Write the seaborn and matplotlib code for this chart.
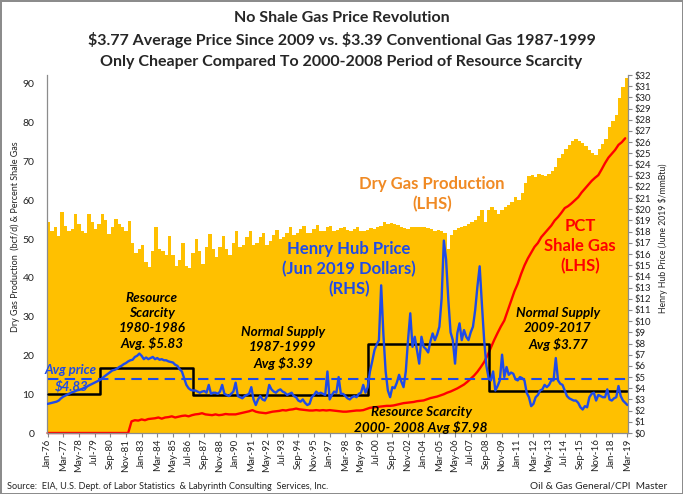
import numpy as np
import pandas as pd
import seaborn as sns
import matplotlib.pyplot as plt

# ---------------------------------------------------------------
# Data
months = pd.date_range('1976-01-01', '2019-03-01', freq='MS')
n_months = len(months)

# Dry gas production (bcf/d), quarterly: Jan, Apr, Jul, Oct
dry_gas = [
    54.5, 52.0, 53.0, 50.8,   # 1976
    57.0, 53.5, 52.0, 52.5,   # 1977
    56.5, 54.0, 52.0, 51.5,   # 1978
    56.5, 54.5, 52.5, 54.0,   # 1979
    56.5, 55.0, 51.3, 53.0,   # 1980
    55.2, 54.0, 53.0, 52.0,   # 1981
    54.6, 49.0, 46.5, 47.5,   # 1982
    48.5, 44.0, 42.8, 47.0,   # 1983
    53.0, 47.5, 47.0, 46.0,   # 1984
    50.9, 46.0, 43.0, 44.5,   # 1985
    49.0, 43.0, 42.5, 46.5,   # 1986
    49.9, 47.0, 43.5, 48.0,   # 1987
    51.3, 47.5, 45.5, 48.0,   # 1988
    50.8, 47.5, 46.0, 49.0,   # 1989
    52.0, 48.0, 48.5, 50.5,   # 1990
    52.0, 48.5, 49.0, 50.5,   # 1991
    51.5, 48.5, 49.5, 51.0,   # 1992
    52.3, 50.0, 50.5, 51.5,   # 1993
    53.0, 51.0, 51.5, 52.5,   # 1994
    53.5, 51.5, 51.5, 52.5,   # 1995
    53.6, 52.0, 52.0, 53.0,   # 1996
    53.5, 52.0, 52.3, 52.8,   # 1997
    53.0, 52.3, 52.0, 52.5,   # 1998
    53.0, 52.0, 52.0, 52.3,   # 1999
    52.8, 52.5, 53.0, 53.5,   # 2000
    54.5, 54.0, 54.2, 53.8,   # 2001
    53.6, 53.2, 52.8, 52.5,   # 2002
    53.0, 53.0, 53.2, 53.0,   # 2003
    53.0, 52.8, 52.5, 52.0,   # 2004
    52.3, 52.0, 51.5, 47.5,   # 2005
    51.0, 52.3, 52.8, 53.2,   # 2006
    53.5, 54.0, 54.3, 55.0,   # 2007
    56.0, 57.5, 54.5, 57.5,   # 2008
    58.3, 57.5, 56.6, 57.5,   # 2009
    58.3, 58.8, 59.6, 60.9,   # 2010
    60.0, 62.0, 64.5, 66.2,   # 2011
    66.5, 66.0, 66.8, 66.5,   # 2012
    66.2, 66.8, 67.5, 68.5,   # 2013
    70.9, 72.0, 73.2, 74.2,   # 2014
    75.2, 75.7, 75.3, 74.8,   # 2015
    74.0, 73.0, 72.2, 71.6,   # 2016
    73.2, 74.5, 75.8, 78.8,   # 2017
    80.5, 82.0, 86.5, 89.3,   # 2018
    91.5,                     # 2019
]

# Percent shale gas, quarterly
shale_pct = [
    0, 0, 0, 0,  0, 0, 0, 0,  0, 0, 0, 0,          # 1976-78
    0, 0, 0, 0,  0, 0, 0, 0,  0, 0, 0, 0,          # 1979-81
    0.0, 3.0, 3.3, 3.2,       # 1982
    3.5, 3.3, 3.6, 3.7,       # 1983
    3.8, 4.0, 3.7, 4.0,       # 1984
    4.1, 4.3, 4.0, 4.2,       # 1985
    4.4, 4.5, 4.3, 4.6,       # 1986
    4.8, 4.9, 5.1, 4.8,       # 1987
    4.7, 4.6, 4.8, 4.6,       # 1988
    4.7, 4.9, 4.8, 4.8,       # 1989
    4.8, 5.0, 5.2, 5.4,       # 1990
    5.6, 5.9, 5.5, 5.3,       # 1991
    5.2, 5.1, 5.3, 5.5,       # 1992
    5.6, 5.7, 5.9, 5.8,       # 1993
    6.0, 6.1, 6.3, 6.1,       # 1994
    6.0, 5.9, 5.8, 5.8,       # 1995
    5.9, 5.8, 5.9, 5.8,       # 1996
    5.9, 5.8, 5.7, 5.6,       # 1997
    5.5, 5.5, 5.6, 5.7,       # 1998
    5.8, 5.8, 5.9, 6.2,       # 1999
    6.5, 6.6, 6.7, 6.8,       # 2000
    6.9, 7.0, 7.0, 7.1,       # 2001
    7.3, 7.5, 7.7, 7.8,       # 2002
    7.9, 8.0, 8.2, 8.3,       # 2003
    8.4, 8.7, 9.0, 9.2,       # 2004
    9.4, 9.7, 10.0, 10.4,     # 2005
    10.7, 11.1, 11.5, 12.0,   # 2006
    12.5, 13.2, 14.0, 14.8,   # 2007
    15.8, 17.0, 18.3, 20.0,   # 2008
    22.0, 24.0, 25.8, 27.5,   # 2009
    29.0, 31.5, 34.0, 36.5,   # 2010
    38.5, 41.0, 43.2, 45.0,   # 2011
    46.5, 48.0, 49.0, 50.5,   # 2012
    51.5, 52.5, 53.5, 54.8,   # 2013
    55.7, 56.8, 58.0, 58.5,   # 2014
    59.2, 60.0, 60.8, 62.0,   # 2015
    63.0, 64.0, 65.0, 65.8,   # 2016
    66.5, 68.0, 69.6, 71.0,   # 2017
    72.0, 73.0, 74.3, 75.0,   # 2018
    76.0,                     # 2019
]

# Henry Hub price, June 2019 $/mmBtu, every 2 months (Jan, Mar, May, Jul, Sep, Nov)
hh_price = [
    2.6, 2.65, 2.7, 2.75, 2.8, 2.9,      # 1976
    3.1, 3.25, 3.35, 3.45, 3.55, 3.65,   # 1977
    3.7, 3.8, 3.85, 3.9, 4.0, 4.05,      # 1978
    4.2, 4.3, 4.4, 4.5, 4.6, 4.7,        # 1979
    4.8, 5.0, 5.15, 5.3, 5.45, 5.6,      # 1980
    5.65, 5.75, 5.9, 6.0, 6.15, 6.25,    # 1981
    6.4, 6.5, 6.55, 6.8, 6.9, 7.1,       # 1982
    6.9, 6.6, 6.75, 6.6, 6.7, 6.8,       # 1983
    6.6, 6.7, 6.55, 6.6, 6.5, 6.5,       # 1984
    6.4, 6.35, 6.3, 6.1, 6.0, 5.7,       # 1985
    5.5, 4.9, 4.3, 4.0, 3.85, 3.8,       # 1986
    3.8, 3.7, 3.6, 3.7, 3.75, 3.6,       # 1987
    4.3, 3.5, 3.6, 3.6, 3.5, 3.7,        # 1988
    4.3, 3.5, 3.4, 3.3, 3.5, 3.7,        # 1989
    4.5, 3.3, 3.2, 3.1, 3.3, 3.4,        # 1990
    3.5, 4.1, 3.0, 2.5, 3.0, 3.3,        # 1991
    3.0, 2.9, 3.3, 4.3, 3.9, 3.7,        # 1992
    3.6, 3.8, 3.9, 3.7, 3.6, 3.4,        # 1993
    3.5, 3.6, 3.3, 3.2, 2.9, 2.8,        # 1994
    3.0, 2.7, 2.5, 2.6, 3.2, 3.4,        # 1995
    3.7, 3.5, 3.6, 3.5, 3.4, 5.5,        # 1996
    3.0, 3.4, 3.7, 3.6, 5.0, 3.5,        # 1997
    3.5, 3.3, 3.1, 3.0, 3.2, 3.3,        # 1998
    3.2, 3.5, 3.6, 4.3, 3.6, 4.1,        # 1999
    5.5, 6.4, 7.4, 7.9, 8.3, 13.2,       # 2000
    8.8, 5.5, 3.8, 3.2, 4.1, 4.0,        # 2001
    4.5, 5.2, 4.6, 4.1, 5.5, 8.3,        # 2002
    10.7, 7.7, 8.6, 7.4, 6.2, 8.6,       # 2003
    7.7, 7.5, 7.2, 8.2, 8.9, 8.3,        # 2004
    8.8, 9.5, 12.0, 17.2, 15.5, 11.9,    # 2005
    9.0, 8.3, 6.2, 8.9, 9.8, 8.3,        # 2006
    9.2, 8.6, 8.3, 9.0, 9.5, 11.0,       # 2007
    13.1, 14.9, 11.5, 8.3, 6.0, 4.9,     # 2008
    4.7, 5.5, 3.8, 4.2, 4.7, 7.0,        # 2009
    5.0, 5.9, 5.2, 5.4, 5.3, 4.8,        # 2010
    4.7, 5.0, 4.9, 4.7, 3.6, 3.2,        # 2011
    2.4, 2.6, 3.2, 3.4, 3.8, 3.9,        # 2012
    4.3, 4.1, 4.3, 4.7, 4.7, 6.7,        # 2013
    4.7, 4.4, 4.3, 3.8, 3.3, 3.1,        # 2014
    3.0, 2.9, 2.9, 2.7, 2.3, 2.1,        # 2015
    2.4, 2.3, 3.2, 3.5, 3.6, 2.9,        # 2016
    3.4, 3.3, 3.2, 3.2, 3.9, 3.0,        # 2017
    2.9, 3.1, 3.2, 4.2, 3.3, 2.9,        # 2018
    2.7, 2.5,                            # 2019
]

# period averages (black step line) and overall average (dashed)
avg_breaks = ['1976-01-01', '1979-12-01', '1986-11-01', '1999-11-01', '2008-11-01', '2019-03-01']
avg_values = [3.45, 5.83, 3.39, 7.98, 3.77]
overall_avg = 4.83

# ---------------------------------------------------------------
sns.set_style('white')
plt.rcParams['font.family'] = ['Lato', 'DejaVu Sans']

GOLD = '#FFC000'
BLUE = '#1F4BE8'
RED = '#FF0000'

W, H = 683, 494
fig = plt.figure(figsize=(W / 100, H / 100), dpi=100)
fig.patch.set_edgecolor('#8c8c8c')
fig.patch.set_linewidth(2)

def fx(x):
    return x / W

def fy(y):
    return 1 - y / H

def label(x, y, s, **kw):
    # plain text (no mathtext, the labels are full of $ signs)
    return fig.text(fx(x), fy(y), s, parse_math=False, **kw)

ax = fig.add_axes([fx(47), fy(433), (628 - 47) / W, (433 - 75) / H])
ax2 = ax.twinx()

q_idx = np.arange(0, n_months, 3)
b_idx = np.arange(0, n_months, 2)

# production area (drawn as quarterly blocks)
edges = np.r_[q_idx, n_months] - 0.5
ax.fill_between(edges, np.r_[dry_gas, dry_gas[-1]], step='post', color=GOLD, lw=0)

sns.lineplot(x=q_idx, y=shale_pct, ax=ax, color=RED, lw=1.7, legend=False)
ax.lines[-1].set_clip_on(False)

step_idx = [months.get_loc(pd.Timestamp(d)) for d in avg_breaks]
sns.lineplot(x=step_idx, y=avg_values + [avg_values[-1]], ax=ax2, color='black',
             lw=1.8, drawstyle='steps-post', legend=False)
ax2.hlines(overall_avg, 0, n_months - 1, colors=BLUE, lw=1.5, linestyles=(0, (5, 3)))
sns.lineplot(x=b_idx, y=hh_price, ax=ax2, color=BLUE, lw=1.7, legend=False)

ax.set_xlim(-0.5, n_months - 0.5)
ax.set_ylim(0, 358 / 3.878)
ax2.set_ylim(0, 32)

xt = np.arange(0, n_months, 14)
ax.set_xticks(xt)
ax.set_xticklabels(months[xt].strftime('%b-%y'), rotation=90, fontsize=7, color='#222222')
ax.set_yticks(np.arange(0, 91, 10))
ax.tick_params(axis='y', length=0, pad=9, labelsize=7.5, labelcolor='#222222')
ax.tick_params(axis='x', length=3, width=0.8, color='#888888', pad=1, bottom=True)
ax2.set_yticks(np.arange(0, 33, 1))
ax2.set_yticklabels([f'${v}' for v in range(33)])
ax2.tick_params(axis='y', length=3, width=0.8, color='#888888', pad=2, labelsize=6.8,
                labelcolor='#222222', right=True)
ax.set_xlabel('')
ax.set_ylabel('')
ax2.set_ylabel('')

for a in (ax, ax2):
    a.spines['top'].set_visible(False)
    for s in ('left', 'right', 'bottom'):
        a.spines[s].set_color('#8c8c8c')
        a.spines[s].set_linewidth(0.9)
ax.spines['right'].set_visible(False)
ax2.spines['left'].set_visible(False)
ax2.spines['bottom'].set_visible(False)

# axis titles
label(15, 237, 'Dry Gas Production  (bcf/d) & Percent Shale Gas', rotation=90,
      ha='center', va='center', fontsize=6.5, color='#222222')
label(663, 238, 'Henry Hub Price (June 2019 $/mmBtu)', rotation=90,
      ha='center', va='center', fontsize=6.2, color='#222222')

# title
title_lines = ['No Shale Gas Price Revolution',
               '$3.77 Average Price Since 2009 vs. $3.39 Conventional Gas 1987-1999',
               'Only Cheaper Compared To 2000-2008 Period of Resource Scarcity']
for line, y in zip(title_lines, [18, 40, 62]):
    label(W / 2, y, line, ha='center', va='center', fontsize=11.5, fontweight='bold')

# annotations
bi = dict(fontweight='bold', fontstyle='italic', ha='center', va='center', linespacing=1.3)
label(71, 370, 'Avg price', color=BLUE, fontsize=9.5, **bi)
label(72, 386, '$4.83', color=BLUE, fontsize=9.5, **bi)
label(152, 321, 'Resource\nScarcity\n1980-1986\nAvg. $5.83', color='black', fontsize=9.7, **bi)
label(283, 348, 'Normal Supply\n1987-1999\nAvg $3.39', color='black', fontsize=9.7, **bi)
label(558, 329, 'Normal Supply\n2009-2017\nAvg $3.77', color='black', fontsize=9.7, **bi)
label(421, 420, 'Resource Scarcity\n2000- 2008 Avg $7.98', color='black', fontsize=9.7, **bi)

bb = dict(fontweight='bold', ha='center', va='center', linespacing=1.3)
label(349, 269, 'Henry Hub Price\n(Jun 2019 Dollars)\n(RHS)', color=BLUE, fontsize=12, **bb)
label(432, 194, 'Dry Gas Production\n(LHS)', color='#F08A24', fontsize=12, **bb)
label(580, 246, 'PCT\nShale Gas\n(LHS)', color=RED, fontsize=12, **bb)

# footer
label(7, 486, 'Source:  EIA, U.S. Dept. of Labor Statistics  & Labyrinth Consulting  Services, Inc.',
      ha='left', va='center', fontsize=6.6, color='#222222')
label(667, 486, 'Oil & Gas General/CPI  Master', ha='right', va='center',
      fontsize=7.3, color='#222222')

fig.savefig('out.png', dpi=100)
